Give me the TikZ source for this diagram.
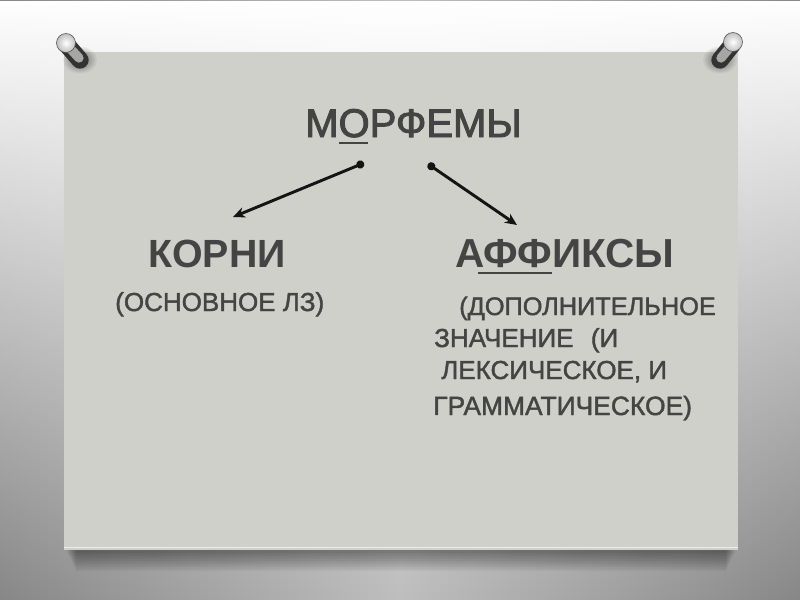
\documentclass[tikz,border=0pt]{standalone}
\usepackage{fontspec}
\setmainfont{Liberation Sans}
\newfontfamily\semifont[FakeBold=1.6]{Liberation Sans}
\newfontfamily\titlefont[FakeBold=2.4]{Liberation Sans}
\usetikzlibrary{arrows.meta,fadings}
\definecolor{bgdark}{RGB}{135,135,135}
\definecolor{bgmid}{RGB}{190,190,190}
\definecolor{cardc}{RGB}{208,208,203}
\definecolor{txt}{RGB}{68,68,68}
\definecolor{arrc}{RGB}{20,20,20}
\tikzset{
  title/.style={anchor=base west, inner sep=0pt, text=txt, font=\titlefont\fontsize{30}{32}\selectfont},
  head/.style={anchor=base west, inner sep=0pt, text=txt, font=\fontsize{29.5}{32}\selectfont\bfseries},
  small/.style={anchor=base west, inner sep=0pt, text=txt, font=\semifont\fontsize{19.5}{22}\selectfont},
  uline/.style={draw=txt, line width=2.2pt},
  conn/.style={draw=arrc, line width=2.2pt, {Circle[length=6pt]}-{Stealth[length=9pt,width=8pt]}},
}
\begin{document}
\begin{tikzpicture}[x=0.75pt,y=-0.75pt]
\useasboundingbox (0,0) rectangle (800,600);
% background
\shade[left color=bgdark, right color=bgdark, middle color=bgmid] (0,0) rectangle (800,600);
\fill[white, path fading=south] (0,0) rectangle (800,600);
% card shadow
\foreach \i in {1,...,10}{
  \fill[black, opacity=0.045] (66+\i,549) rectangle (736-\i,551+2*\i);
}
% card
\fill[cardc] (64,52) rectangle (738,550);
\draw[white, opacity=0.6, line width=0.8pt] (64,547.5) -- (738,547.5);
% pins
\begin{scope}
  \foreach \i in {1,...,8}{\fill[black, opacity=0.05] (80,60) ellipse ({4+1.6*\i} and {3+1.3*\i});}
  \draw[line width=13pt, line cap=round, color=gray!40!black] (67,45) -- (80,60);
  \draw[line width=7pt, line cap=round, color=gray!70] (68,46) -- (79,58);
  \shade[inner color=white, outer color=gray!50] (66,43) circle (9.5);
  \draw[gray!60!black, line width=0.4pt] (66,43) circle (9.5);
\end{scope}
\begin{scope}
  \foreach \i in {1,...,8}{\fill[black, opacity=0.05] (720,60) ellipse ({4+1.6*\i} and {3+1.3*\i});}
  \draw[line width=13pt, line cap=round, color=gray!40!black] (732,45) -- (720,60);
  \draw[line width=7pt, line cap=round, color=gray!70] (731,46) -- (721,58);
  \shade[inner color=white, outer color=gray!50] (733,42) circle (9.5);
  \draw[gray!60!black, line width=0.4pt] (733,42) circle (9.5);
\end{scope}
% texts
\node[title] (morf) at (305,137) {МОРФЕМЫ};
\draw[uline] (339,143) -- (368,143);
\node[head] (korni) at (148,267) {КОРНИ};
\node[head, font=\fontsize{30.4}{32}\selectfont\bfseries] (affix) at (455,267) {АФФИКСЫ};
\draw[uline] (478,273) -- (552,273);
\node[small] (osn) at (115,311) {(ОСНОВНОЕ ЛЗ)};
\node[small, font=\semifont\fontsize{19}{22}\selectfont] (l1) at (459,315) {(ДОПОЛНИТЕЛЬНОЕ};
\node[small] (l2) at (434,347) {ЗНАЧЕНИЕ\hspace{13pt}(И};
\node[small] (l3) at (441,379) {ЛЕКСИЧЕСКОЕ, И};
\node[small, font=\semifont\fontsize{19.8}{22}\selectfont] (l4) at (433,415) {ГРАММАТИЧЕСКОЕ)};
% connectors
\coordinate (a1s) at (364,163);
\coordinate (a1e) at (233,217);
\coordinate (a2s) at (428,164);
\coordinate (a2e) at (517,225);
\draw[conn] (a1s) -- (a1e);
\draw[conn] (a2s) -- (a2e);
\end{tikzpicture}
\end{document}
